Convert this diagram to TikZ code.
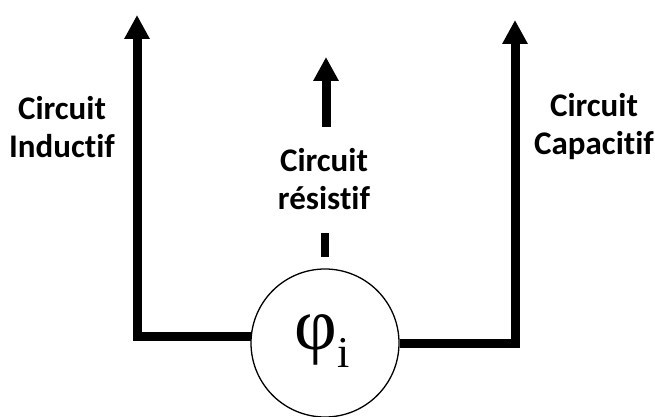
\documentclass[tikz,border=0pt]{standalone}
\usepackage{fontspec}
\newfontfamily\labfont[Ligatures={NoCommon,NoDiscretionary}]{Carlito}
\newfontfamily\tnrfont{Liberation Serif}
\usetikzlibrary{arrows.meta}
\tikzset{
  thick line/.style={line width=9pt, line join=miter},
  arrowline/.style={thick line, -{Triangle[width=24pt,length=24pt]}},
  lab/.style={align=center, font=\labfont\bfseries\fontsize{33}{38}\selectfont, inner sep=0pt},
  phinode/.style={draw, circle, line width=1.3pt, minimum size=148pt, inner sep=0pt}
}
\begin{document}
\begin{tikzpicture}[x=1pt,y=-1pt]
\useasboundingbox (0,0) rectangle (655,417);
\node[phinode] (phi) at (325,343) {};
\node[font=\tnrfont\fontsize{74}{78}\selectfont, inner sep=0pt] (sym) at (322,341) {φ\raisebox{-0.24em}{\fontsize{44}{48}\selectfont i}};
\coordinate (Ltip) at (137,15);
\coordinate (Rtip) at (515,20);
\coordinate (Mtip) at (326,57);
\coordinate (Mbase) at (326,127);
\coordinate (Dtop) at (325,233);
\coordinate (Dbot) at (325,257);
\draw[arrowline] (phi.175) -| (Ltip);
\draw[arrowline] (phi.east) -| (Rtip);
\draw[arrowline] (Mbase) -- (Mtip);
\draw[line width=8pt] (Dtop) -- (Dbot);
\node[lab] (lleft) at (62,127) {Circuit\\Inductif};
\node[lab] (lmid) at (324,179) {Circuit\\résistif};
\node[lab] (lright) at (594,127) {Circuit\\Capacitif};
\end{tikzpicture}
\end{document}
